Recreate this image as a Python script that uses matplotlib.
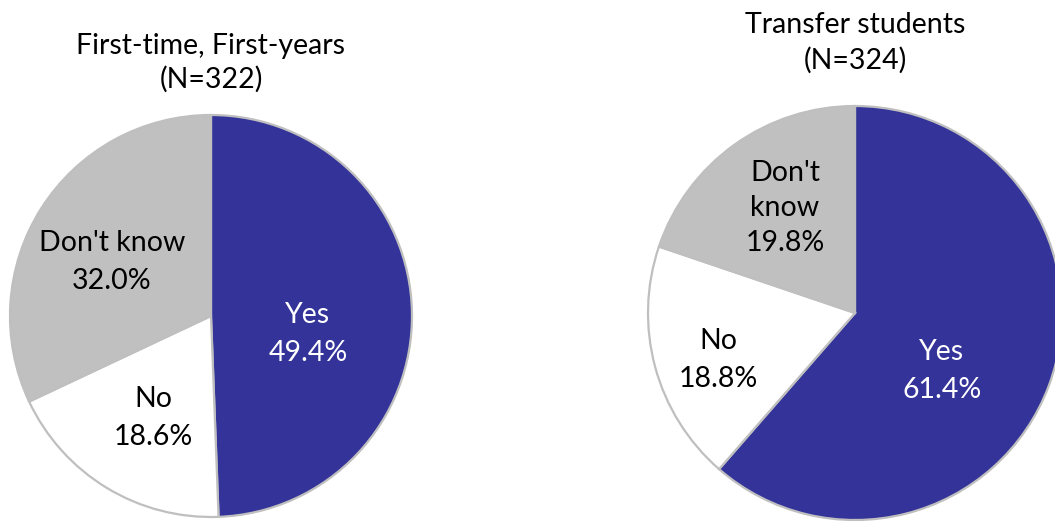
import matplotlib.pyplot as plt

plt.rcParams['font.family'] = ['Lato', 'DejaVu Sans']

categories = ['Yes', 'No', "Don't know"]
first_year = [49.4, 18.6, 32.0]
transfer = [61.4, 18.8, 19.8]
colors = ['#333399', '#FFFFFF', '#C0C0C0']

W, H = 1055, 527
fig = plt.figure(figsize=(W / 100, H / 100), dpi=100)
ax = fig.add_axes([0, 0, 1, 1])

wp = dict(edgecolor='#BFBFBF', linewidth=1.6)
ax.pie(first_year, colors=colors, startangle=90, counterclock=False,
       center=(211, H - 316), radius=201, wedgeprops=wp, frame=True)
ax.pie(transfer, colors=colors, startangle=90, counterclock=False,
       center=(855, H - 313), radius=207, wedgeprops=wp, frame=True)

ax.set_xlim(0, W)
ax.set_ylim(0, H)
ax.set_aspect('equal')
ax.axis('off')

fs = 20.5


def label(x, y, txt, color='black', ls=1.55):
    ax.text(x, H - y, txt, ha='center', va='center', fontsize=fs,
            color=color, linespacing=ls)


# left pie
label(211, 63, 'First-time, First-years\n(N=322)', ls=1.3)
label(308, 334, f'{categories[0]}\n{first_year[0]}%', 'white')
label(153, 418, f'{categories[1]}\n{first_year[1]}%')
label(112, 262, f'{categories[2]}\n{first_year[2]}%')

# right pie
label(855, 43, 'Transfer students\n(N=324)', ls=1.4)
label(942, 371, f'{categories[0]}\n{transfer[0]}%', 'white')
label(718, 360, f'{categories[1]}\n{transfer[1]}%')
label(785, 208, "Don't\nknow\n" + f'{transfer[2]}%', ls=1.45)

fig.savefig('out.png', dpi=100)
